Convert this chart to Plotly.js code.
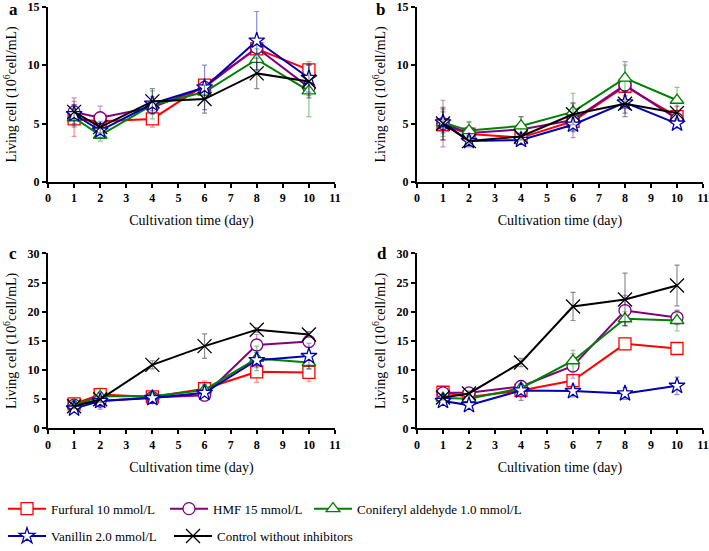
<!DOCTYPE html>
<html>
<head>
<meta charset="utf-8">
<script src="https://cdn.plot.ly/plotly-3.0.1.min.js"></script>
<style>
  html, body { margin: 0; padding: 0; background: #fff; }
  #chart { width: 709px; height: 551px; }
</style>
</head>
<body>
<div id="chart"></div>
<script>
// sampling days
const days = [1, 2, 4, 6, 8, 10];

const seriesNames = ['Furfural 10 mmol/L', 'HMF 15 mmol/L', 'Coniferyl aldehyde 1.0 mmol/L',
  'Vanillin 2.0 mmol/L', 'Control without inhibitors'];

// panel a
const aFurfural = [5.4, 5.2, 5.4, 8.3, 11.4, 9.6];
const aHmf = [6.0, 5.5, 6.4, 8.1, 11.5, 8.1];
const aConiferyl = [5.5, 4.0, 6.6, 7.7, 10.5, 7.8];
const aVanillin = [5.8, 4.4, 6.7, 8.1, 12.1, 8.9];
const aControl = [6.0, 4.7, 6.9, 7.1, 9.3, 8.6];
const aFurfuralErr = [1.5, 0.5, 0.7, 0.4, 0.6, 0.7];
const aHmfErr = [1.2, 1.0, 0.5, 0.5, 0.8, 0.7];
const aConiferylErr = [0.8, 0.5, 1.2, 0.6, 0.9, 2.2];
const aVanillinErr = [0.8, 0.6, 0.6, 1.9, 2.5, 1.2];
const aControlErr = [0.6, 0.5, 1.1, 1.2, 1.3, 1.4];

// panel b
const bFurfural = [4.9, 4.1, 3.8, 5.2, 8.2, 5.6];
const bHmf = [5.0, 4.2, 4.5, 5.3, 8.3, 5.4];
const bConiferyl = [5.1, 4.4, 4.8, 6.0, 8.9, 7.0];
const bVanillin = [5.1, 3.5, 3.6, 4.9, 6.8, 5.0];
const bControl = [5.0, 3.5, 3.9, 5.8, 6.7, 5.9];
const bFurfuralErr = [1.3, 0.5, 0.4, 0.6, 0.8, 0.5];
const bHmfErr = [2.0, 0.9, 1.1, 1.5, 2.0, 0.6];
const bConiferylErr = [1.2, 0.8, 0.8, 1.6, 1.1, 1.1];
const bVanillinErr = [0.9, 0.5, 0.3, 0.6, 0.9, 0.4];
const bControlErr = [1.4, 0.4, 0.3, 0.9, 1.1, 0.6];

// panel c
const cFurfural = [4.2, 5.8, 5.4, 6.8, 9.7, 9.6];
const cHmf = [4.0, 4.7, 5.3, 5.7, 14.3, 14.9];
const cConiferyl = [4.0, 5.5, 5.5, 6.6, 12.0, 11.3];
const cVanillin = [3.4, 4.7, 5.2, 6.1, 11.7, 12.4];
const cControl = [3.8, 5.0, 10.9, 14.1, 16.9, 16.1];
const cFurfuralErr = [0.6, 0.7, 0.4, 1.3, 1.8, 1.6];
const cHmfErr = [0.5, 0.8, 0.4, 0.6, 1.8, 1.0];
const cConiferylErr = [0.5, 1.4, 0.4, 0.9, 2.1, 1.1];
const cVanillinErr = [0.5, 1.4, 0.3, 0.6, 1.3, 2.2];
const cControlErr = [0.4, 0.5, 0.7, 2.1, 0.4, 0.5];

// panel d
const dFurfural = [6.2, 5.4, 6.5, 8.2, 14.5, 13.7];
const dHmf = [6.1, 6.1, 7.2, 10.7, 20.2, 19.0];
const dConiferyl = [5.2, 5.1, 6.9, 11.6, 18.8, 18.5];
const dVanillin = [4.7, 4.0, 6.5, 6.4, 6.0, 7.3];
const dControl = [5.3, 6.0, 11.3, 20.9, 22.1, 24.5];
const dFurfuralErr = [0.8, 0.4, 0.6, 0.6, 1.0, 0.6];
const dHmfErr = [0.6, 0.6, 0.9, 2.1, 2.6, 1.2];
const dConiferylErr = [0.4, 0.5, 0.8, 1.8, 1.2, 1.8];
const dVanillinErr = [0.4, 0.3, 1.7, 1.0, 1.0, 1.5];
const dControlErr = [0.4, 0.4, 0.7, 2.4, 4.5, 3.5];

const styles = [
  { color: '#ff0000', err: 'rgba(255,0,0,0.45)', symbol: 'square' },
  { color: '#800080', err: 'rgba(128,0,128,0.45)', symbol: 'circle' },
  { color: '#008000', err: 'rgba(0,128,0,0.45)', symbol: 'triangle-up' },
  { color: '#0000b0', err: 'rgba(0,0,176,0.45)', symbol: 'star' },
  { color: '#000000', err: 'rgba(0,0,0,0.45)', symbol: 'x-thin-open' }
];

const panels = [
  { x: 'x', y: 'y', values: [aFurfural, aHmf, aConiferyl, aVanillin, aControl],
    errs: [aFurfuralErr, aHmfErr, aConiferylErr, aVanillinErr, aControlErr] },
  { x: 'x2', y: 'y2', values: [bFurfural, bHmf, bConiferyl, bVanillin, bControl],
    errs: [bFurfuralErr, bHmfErr, bConiferylErr, bVanillinErr, bControlErr] },
  { x: 'x3', y: 'y3', values: [cFurfural, cHmf, cConiferyl, cVanillin, cControl],
    errs: [cFurfuralErr, cHmfErr, cConiferylErr, cVanillinErr, cControlErr] },
  { x: 'x4', y: 'y4', values: [dFurfural, dHmf, dConiferyl, dVanillin, dControl],
    errs: [dFurfuralErr, dHmfErr, dConiferylErr, dVanillinErr, dControlErr] }
];

const legendIds = ['legend', 'legend2', 'legend3', 'legend4', 'legend5'];

let traces = [];
panels.forEach((panel, p) => {
  panel.values.forEach((vals, i) => {
    let st = styles[i];
    let isX = st.symbol === 'x-thin-open';
    traces.push({
      x: days,
      y: vals,
      xaxis: panel.x,
      yaxis: panel.y,
      type: 'scatter',
      mode: 'lines+markers',
      name: seriesNames[i],
      legend: legendIds[i],
      showlegend: p === 0,
      cliponaxis: false,
      line: { color: st.color, width: 2 },
      marker: {
        symbol: st.symbol,
        size: isX ? 14 : 12,
        color: isX ? st.color : '#ffffff',
        line: { color: st.color, width: 1.3 }
      },
      error_y: { type: 'data', array: panel.errs[i], visible: true,
                 color: st.err, thickness: 1.2, width: 2.5 }
    });
  });
});

const W = 709, H = 551;
const font = 'Liberation Serif, Times New Roman, serif';

function xAxis(left, right, anchor) {
  return {
    domain: [left / W, right / W],
    anchor: anchor,
    range: [0, 11],
    tick0: 0, dtick: 1,
    showgrid: false, zeroline: false,
    showline: true, linecolor: '#000', linewidth: 2,
    ticks: 'outside', ticklen: 4, tickwidth: 2, tickcolor: '#000',
    tickfont: { family: font, size: 12, color: '#000', weight: 700 },
    title: { text: 'Cultivation time (day)', font: { family: font, size: 14, color: '#000' }, standoff: 11 }
  };
}

function yAxis(top, bottom, anchor, maxV) {
  return {
    domain: [1 - bottom / H, 1 - top / H],
    anchor: anchor,
    range: [0, maxV],
    tick0: 0, dtick: 5,
    showgrid: false, zeroline: false,
    showline: true, linecolor: '#000', linewidth: 2,
    ticks: 'outside', ticklen: 4, tickwidth: 2, tickcolor: '#000',
    tickfont: { family: font, size: 12, color: '#000', weight: 700 },
    title: { text: 'Living cell (10<sup>6</sup>cell/mL)', font: { family: font, size: 14, color: '#000' }, standoff: 8 }
  };
}

function legendAt(px, py) {
  return {
    x: px / W, y: 1 - py / H, xanchor: 'left', yanchor: 'middle',
    orientation: 'h', bgcolor: 'rgba(0,0,0,0)', borderwidth: 0,
    itemwidth: 38, itemclick: false, itemdoubleclick: false,
    font: { family: font, size: 13, color: '#000' }
  };
}

function panelLabel(text, px, py) {
  return {
    text: text, xref: 'paper', yref: 'paper', x: px / W, y: 1 - py / H,
    xanchor: 'center', yanchor: 'middle', showarrow: false,
    font: { family: font, size: 17, color: '#000', weight: 700 }
  };
}

const layout = {
  width: W, height: H,
  margin: { l: 0, r: 0, t: 0, b: 0 },
  paper_bgcolor: '#fff', plot_bgcolor: 'rgba(0,0,0,0)',
  font: { family: font, color: '#000' },
  xaxis: xAxis(48, 335, 'y'),
  yaxis: yAxis(7, 186, 'x', 15),
  xaxis2: xAxis(417, 703, 'y2'),
  yaxis2: yAxis(7, 186, 'x2', 15),
  xaxis3: xAxis(48, 335, 'y3'),
  yaxis3: yAxis(259, 438, 'x3', 30),
  xaxis4: xAxis(417, 703, 'y4'),
  yaxis4: yAxis(259, 438, 'x4', 30),
  legend: legendAt(3, 520),
  legend2: legendAt(165, 520),
  legend3: legendAt(309, 520),
  legend4: legendAt(3, 548),
  legend5: legendAt(169, 548),
  annotations: [
    panelLabel('a', 13, 10),
    panelLabel('b', 380, 10),
    panelLabel('c', 13, 259),
    panelLabel('d', 382, 259)
  ]
};

Plotly.newPlot('chart', traces, layout, { displayModeBar: false, staticPlot: true });
</script>
</body>
</html>
